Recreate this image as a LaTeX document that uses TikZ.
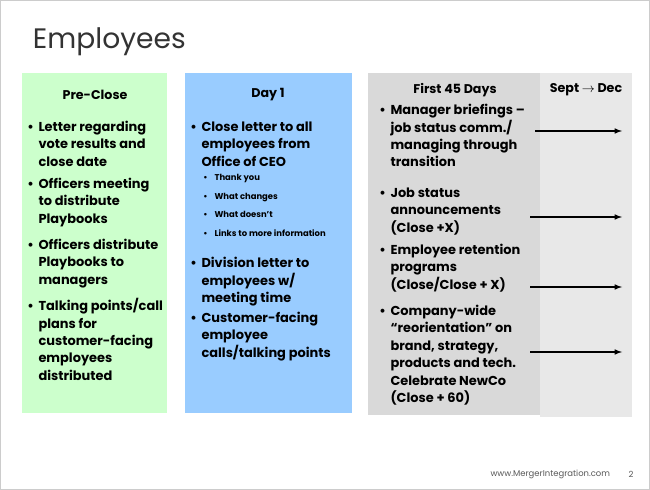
\documentclass[tikz,border=0pt]{standalone}
\usepackage{fontspec}
\setmainfont{Poppins}
\usetikzlibrary{positioning,calc}
\definecolor{preclose}{HTML}{CCFFCC}
\definecolor{dayone}{HTML}{99CCFF}
\definecolor{firstdays}{HTML}{D9D9D9}
\definecolor{septdec}{HTML}{E8E8E8}
\newcommand{\blt}[1]{\makebox[8pt][l]{\textbullet}\begin{tabular}[t]{@{}l@{}}#1\end{tabular}}
\newcommand{\sublt}[1]{\makebox[8pt][l]{\textbullet}#1}

\begin{document}
\begin{tikzpicture}[x=0.025cm,y=-0.025cm,
        column/.style={rectangle, anchor=north west, inner sep=0pt},
        head/.style={font=\fontsize{9}{11}\selectfont\bfseries},
        item/.style={anchor=north west, inner sep=0pt, align=left, font=\fontsize{9.2}{12.4}\selectfont\bfseries},
        subitem/.style={anchor=north west, inner sep=0pt, align=left, font=\fontsize{6}{13.2}\selectfont\bfseries},
        arrow/.style={->, >=latex, thick}
    ]
        \useasboundingbox[fill=white] (0,0) rectangle (650,490);
        \draw[gray!40] (0.5,0.5) rectangle (649.5,489.5);

        \node[anchor=west, font=\fontsize{20}{24}\selectfont, text=black!80] (title) at (28,42) {Employees};

        % columns
        \node[column, fill=preclose, minimum width=145*0.025cm, minimum height=340*0.025cm] (pre) at (22,73) {};
        \node[column, fill=dayone, minimum width=167*0.025cm, minimum height=340*0.025cm] (day) at (185,73) {};
        \node[column, fill=firstdays, minimum width=172*0.025cm, minimum height=342*0.025cm] (first) at (368,73) {};
        \node[column, fill=septdec, minimum width=92*0.025cm, minimum height=344*0.025cm] (sept) at (540,73) {};

        \node[head] (hpre) at (95,95) {Pre-Close};
        \node[head] (hday) at (268,95) {Day 1};
        \node[head] (hfirst) at (455,90) {First 45 Days};
        \node[head] (hsept) at (586,90) {Sept $\rightarrow$ Dec};

        % Pre-Close
        \node[item] (p1) at (27,119) {\blt{Letter regarding\\vote results and\\close date}};
        \node[item] (p2) at (27,176) {\blt{Officers meeting\\to distribute\\Playbooks}};
        \node[item] (p3) at (27,237) {\blt{Officers distribute\\Playbooks to\\managers}};
        \node[item] (p4) at (27,298) {\blt{Talking points/call\\plans for\\customer-facing\\employees\\distributed}};

        % Day 1
        \node[item] (d1) at (190,119) {\blt{Close letter to all\\employees from\\Office of CEO}};
        \node[subitem] (d1a) at (203,174) {\sublt{Thank you}\\\sublt{What changes}\\\sublt{What doesn't}\\\sublt{Links to more information}};
        \node[item] (d2) at (190,255) {\blt{Division letter to\\employees w/\\meeting time}};
        \node[item] (d3) at (190,310) {\blt{Customer-facing\\employee\\calls/talking points}};

        % First 45 days
        \node[item] (f1) at (379,102) {\blt{Manager briefings --\\job status comm./\\managing through\\transition}};
        \node[item] (f2) at (379,185) {\blt{Job status\\announcements\\(Close +X)}};
        \node[item] (f3) at (379,242) {\blt{Employee retention\\programs\\(Close/Close + X)}};
        \node[item] (f4) at (379,303) {\blt{Company-wide\\``reorientation'' on\\brand, strategy,\\products and tech.\\Celebrate NewCo\\(Close + 60)}};

        \coordinate (a1) at (622,131);
        \coordinate (a2) at (622,217);
        \coordinate (a3) at (622,287);
        \coordinate (a4) at (622,352);
        \draw[arrow] (535,131) -- (a1);
        \draw[arrow] (530,217) -- (a2);
        \draw[arrow] (530,287) -- (a3);
        \draw[arrow] (530,352) -- (a4);

        \node[anchor=east, font=\fontsize{6}{7}\selectfont, text=black!65] (web) at (615,474) {www.MergerIntegration.com};
        \node[font=\fontsize{6}{7}\selectfont, text=black!65] (page) at (631,474) {2};
    \end{tikzpicture}
\end{document}
